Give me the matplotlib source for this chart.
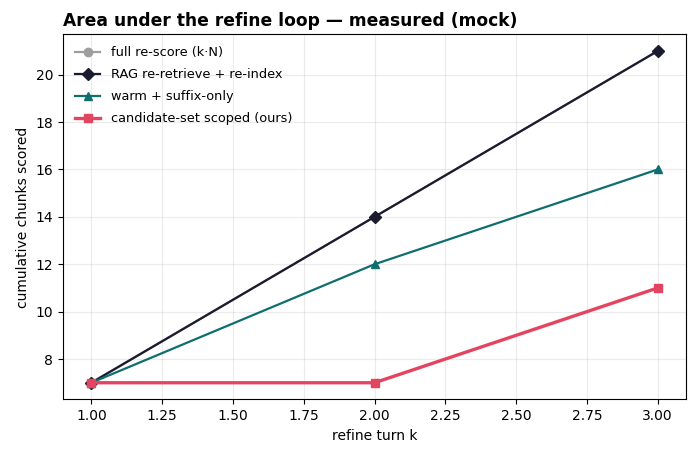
import matplotlib
matplotlib.use("Agg")
import matplotlib.pyplot as plt

turns = [1, 2, 3]
full_rescore = [7, 14, 21]
rag = [7, 14, 21]
warm = [7, 12, 16]
ours = [7, 7, 11]

fig, ax = plt.subplots(figsize=(7, 4.59), dpi=100)

ax.plot(turns, full_rescore, marker="o", color="#9e9e9e", lw=1.6, ms=6, label="full re-score (k\u00b7N)")
ax.plot(turns, rag, marker="D", color="#1b1b2f", lw=1.6, ms=6, label="RAG re-retrieve + re-index")
ax.plot(turns, warm, marker="^", color="#0f6e6e", lw=1.6, ms=6, label="warm + suffix-only")
ax.plot(turns, ours, marker="s", color="#e34561", lw=2.4, ms=6, label="candidate-set scoped (ours)")

ax.set_title("Area under the refine loop \u2014 measured (mock)", loc="left", fontweight="bold", fontsize=12.3)
ax.set_xlabel("refine turn k")
ax.set_ylabel("cumulative chunks scored")
ax.grid(True, alpha=0.25)
ax.legend(loc="upper left", frameon=False, fontsize=9.3, labelspacing=0.7)

fig.subplots_adjust(left=0.09, right=0.98, top=0.925, bottom=0.13)
fig.savefig("out.png")
